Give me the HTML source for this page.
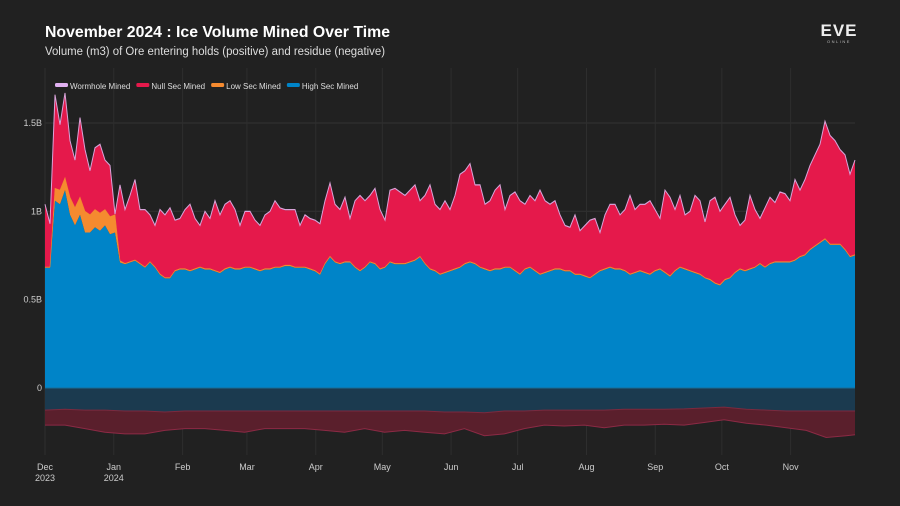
<!DOCTYPE html>
<html><head><meta charset="utf-8">
<style>
body{margin:0;background:#212121;width:900px;height:506px;overflow:hidden;font-family:"Liberation Sans",sans-serif;}
svg{display:block}
</style></head>
<body>
<svg id="chart" width="900" height="506" xmlns="http://www.w3.org/2000/svg">
<rect width="900" height="506" fill="#212121"/>
<text x="45" y="37" fill="#fff" font-size="16" font-weight="bold" textLength="345" lengthAdjust="spacingAndGlyphs">November 2024 : Ice Volume Mined Over Time</text>
<text x="45" y="55" fill="#ddd" font-size="11.5" textLength="340" lengthAdjust="spacingAndGlyphs">Volume (m3) of Ore entering holds (positive) and residue (negative)</text>
<g>
<text x="839" y="36" fill="#eee" font-size="17" font-weight="bold" text-anchor="middle" letter-spacing="1">EVE</text>
<text x="839" y="43" fill="#bbb" font-size="4" text-anchor="middle" letter-spacing="1.5">ONLINE</text>
</g>
<g id="grid"></g>
<g id="areas"></g>
<g id="axes"></g>
<g id="legend"></g>
</svg>
<script>
const total=[1.04,0.93,1.66,1.49,1.67,1.40,1.29,1.53,1.35,1.23,1.36,1.38,1.29,1.26,0.98,1.15,1.01,1.09,1.18,1.01,1.01,0.98,0.92,1.01,0.98,1.02,0.95,0.96,1.01,1.04,0.96,0.92,1.00,0.96,1.06,0.98,1.04,1.06,1.01,0.92,1.00,1.00,0.95,0.92,0.98,1.00,1.06,1.02,1.01,1.01,1.01,0.92,0.98,0.96,0.95,0.93,1.06,1.16,1.04,1.01,1.08,0.96,1.06,1.09,1.06,1.09,1.13,1.01,0.95,1.12,1.13,1.11,1.09,1.12,1.15,1.06,1.09,1.15,1.04,1.01,1.06,1.01,1.09,1.21,1.23,1.27,1.15,1.15,1.04,1.06,1.12,1.15,1.01,1.09,1.11,1.06,1.04,1.09,1.06,1.12,1.06,1.04,1.06,0.98,0.92,0.91,0.98,0.89,0.92,0.95,0.96,0.88,0.98,1.04,1.04,0.98,1.01,1.09,1.01,1.04,1.04,1.06,1.01,0.96,1.12,1.08,1.01,1.09,0.98,1.00,1.09,1.06,0.94,1.06,1.08,1.00,1.04,1.08,0.98,0.92,0.95,1.09,1.01,0.96,1.02,1.08,1.05,1.11,1.10,1.06,1.18,1.12,1.18,1.26,1.32,1.38,1.51,1.43,1.40,1.35,1.32,1.21,1.29];
const highSec=[0.68,0.68,1.06,1.04,1.12,0.98,0.92,0.98,0.88,0.88,0.91,0.89,0.92,0.87,0.88,0.71,0.70,0.71,0.72,0.70,0.68,0.71,0.68,0.64,0.62,0.62,0.66,0.67,0.67,0.66,0.67,0.68,0.67,0.67,0.66,0.65,0.67,0.68,0.67,0.67,0.68,0.68,0.67,0.66,0.67,0.67,0.68,0.68,0.69,0.69,0.68,0.68,0.68,0.67,0.66,0.64,0.70,0.74,0.71,0.70,0.71,0.71,0.68,0.66,0.68,0.71,0.70,0.67,0.68,0.71,0.70,0.70,0.70,0.71,0.72,0.74,0.70,0.67,0.66,0.64,0.65,0.66,0.67,0.68,0.70,0.71,0.70,0.68,0.67,0.66,0.67,0.67,0.68,0.68,0.66,0.64,0.67,0.68,0.66,0.64,0.65,0.66,0.67,0.67,0.66,0.66,0.64,0.64,0.63,0.62,0.64,0.66,0.67,0.68,0.67,0.67,0.66,0.64,0.65,0.66,0.65,0.64,0.66,0.67,0.65,0.63,0.66,0.68,0.67,0.66,0.65,0.64,0.62,0.61,0.59,0.58,0.61,0.62,0.65,0.67,0.66,0.67,0.68,0.70,0.68,0.70,0.71,0.71,0.71,0.71,0.72,0.74,0.75,0.78,0.80,0.82,0.84,0.81,0.81,0.81,0.78,0.74,0.75];
const lowSec=[0.005,0.005,0.07,0.08,0.07,0.10,0.10,0.10,0.12,0.10,0.10,0.10,0.09,0.10,0.10,0.01,0.005,0.005,0.005,0.005,0.005,0.005,0.005,0.005,0.005,0.005,0.005,0.005,0.005,0.005,0.005,0.005,0.005,0.005,0.005,0.005,0.005,0.005,0.005,0.005,0.005,0.005,0.005,0.005,0.005,0.005,0.005,0.005,0.005,0.005,0.005,0.005,0.005,0.005,0.005,0.005,0.005,0.005,0.005,0.005,0.005,0.005,0.005,0.005,0.005,0.005,0.005,0.005,0.005,0.005,0.005,0.005,0.005,0.005,0.005,0.005,0.005,0.005,0.005,0.005,0.005,0.005,0.005,0.005,0.005,0.005,0.005,0.005,0.005,0.005,0.005,0.005,0.005,0.005,0.005,0.005,0.005,0.005,0.005,0.005,0.005,0.005,0.005,0.005,0.005,0.005,0.005,0.005,0.005,0.005,0.005,0.005,0.005,0.005,0.005,0.005,0.005,0.005,0.005,0.005,0.005,0.005,0.005,0.005,0.005,0.005,0.005,0.005,0.005,0.005,0.005,0.005,0.005,0.005,0.005,0.005,0.005,0.005,0.005,0.005,0.005,0.005,0.005,0.005,0.005,0.005,0.005,0.005,0.005,0.005,0.005,0.005,0.005,0.005,0.005,0.005,0.005,0.005,0.005,0.005,0.005,0.005,0.005];
const wormhole=0.004;
const residueDays=[0,9,18,27,36,45,54,63,72,81,90,99,108,117,126,135,144,153,162,171,180,189,198,207,216,225,234,243,252,261,270,279,288,297,306,316,325,334,343,352,361,365];
const highResidue=[-0.125,-0.12,-0.125,-0.125,-0.13,-0.13,-0.136,-0.13,-0.13,-0.13,-0.13,-0.13,-0.13,-0.13,-0.13,-0.13,-0.13,-0.13,-0.13,-0.13,-0.136,-0.136,-0.14,-0.13,-0.13,-0.125,-0.125,-0.125,-0.125,-0.12,-0.12,-0.12,-0.118,-0.113,-0.108,-0.12,-0.125,-0.13,-0.13,-0.13,-0.13,-0.13];
const nullResidue=[-0.085,-0.09,-0.105,-0.125,-0.13,-0.13,-0.104,-0.10,-0.10,-0.11,-0.12,-0.10,-0.10,-0.10,-0.11,-0.12,-0.10,-0.12,-0.11,-0.12,-0.124,-0.094,-0.13,-0.13,-0.10,-0.085,-0.09,-0.085,-0.10,-0.09,-0.09,-0.085,-0.092,-0.082,-0.072,-0.08,-0.085,-0.095,-0.11,-0.15,-0.14,-0.135];
const yTicks=[0,0.5,1,1.5];
const yTickLabels=["0","0.5B","1B","1.5B"];
const monthDays=[0,31,62,91,122,152,183,213,244,275,305,336];
const monthLabels=["Dec","Jan","Feb","Mar","Apr","May","Jun","Jul","Aug","Sep","Oct","Nov"];
const monthYears={0:"2023",1:"2024"};
const legendLabels=["Wormhole Mined","Null Sec Mined","Low Sec Mined","High Sec Mined"];
const legendColors=["#e0b0f0","#e5194b","#f58a2f","#0084c8"];

const NS="http://www.w3.org/2000/svg";
const X0=45,X1=855,DAYS=365;
const xs=d=>X0+d*(X1-X0)/DAYS;
const ys=v=>388-v*176.7;
const n=Math.min(total.length,highSec.length,lowSec.length);
const dayOf=i=>i*DAYS/(n-1);
function mk(tag,attrs,parent){const e=document.createElementNS(NS,tag);for(const k in attrs)e.setAttribute(k,attrs[k]);parent.appendChild(e);return e;}
const grid=document.getElementById('grid'),areas=document.getElementById('areas'),axes=document.getElementById('axes'),legend=document.getElementById('legend');
yTicks.forEach((t,i)=>{
  if(t!==0){const l=mk('line',{x1:X0,x2:X1,y1:ys(t),y2:ys(t),stroke:'#333','stroke-width':1},grid);
  
  }
  const tx=mk('text',{x:42,y:ys(t)+3,fill:'#ccc','font-size':9,'text-anchor':'end'},axes);
  tx.textContent=yTickLabels[i];
  
  
});
monthDays.forEach((d,i)=>{
  const l=mk('line',{x1:xs(d),x2:xs(d),y1:68,y2:455,stroke:'#2e2e2e','stroke-width':1},grid);
  
  
  const tx=mk('text',{x:xs(d),y:470,fill:'#ccc','font-size':9,'text-anchor':'middle'},axes);
  tx.textContent=monthLabels[i];
  
  
  if(monthYears[i]){const ty=mk('text',{x:xs(d),y:481,fill:'#ccc','font-size':9,'text-anchor':'middle'},axes);
  ty.textContent=monthYears[i];
  
  }
});
function band(lo,hi,fill,name,days){
  const m=days.length;let p='';
  for(let i=0;i<m;i++)p+=(i?'L':'M')+xs(days[i]).toFixed(1)+','+ys(hi[i]).toFixed(1);
  for(let i=m-1;i>=0;i--)p+='L'+xs(days[i]).toFixed(1)+','+ys(lo[i]).toFixed(1);
  const e=mk('path',{d:p+'Z',fill:fill},areas);
  
  
  return e;
}
function line(vals,stroke,name,days,w){
  let p='';days.forEach((d,i)=>{p+=(i?'L':'M')+xs(d).toFixed(1)+','+ys(vals[i]).toFixed(1);});
  const e=mk('path',{d:p,fill:'none',stroke:stroke,'stroke-width':w||1},areas);
  
  
}
const days=[];for(let i=0;i<n;i++)days.push(dayOf(i));
const zero=days.map(()=>0);
const hs=highSec.slice(0,n);
const ls=hs.map((v,i)=>v+lowSec[i]);
const tot=total.slice(0,n).map((v,i)=>Math.max(v,ls[i]+wormhole));
const ns=tot.map(v=>v-wormhole);
band(zero,hs,'#0084c8','high-sec-area',days);
band(hs,ls,'#f58a2f','low-sec-area',days);
band(ls,ns,'#e5194b','null-sec-area',days);
band(ns,tot,'#e0b0f0','wormhole-area',days);
line(tot,'#d9a3d9','total-line',days,1);
line(ls,'#f58a2f','low-sec-line',days,0.6);
const rz=residueDays.map(()=>0);
const rb=highResidue.map((v,i)=>v+nullResidue[i]);
band(rz,highResidue,'#1b3a4f','high-sec-residue-area',residueDays);
band(highResidue,rb,'#5a1f2c','null-sec-residue-area',residueDays);
line(rb,'#8c2a45','residue-bottom-line',residueDays,1);
line(highResidue,'#7a2a3f','residue-mid-line',residueDays,1);
const zl=mk('line',{x1:X0,x2:X1,y1:ys(0),y2:ys(0),stroke:'#1a6c96','stroke-width':1},areas);


let lx=55;
legendLabels.forEach((lab,i)=>{
  const g=mk('g',{},legend);
  
  
  mk('rect',{x:lx,y:83,width:13,height:4,rx:1.5,fill:legendColors[i]},g);
  const t=mk('text',{x:lx+15,y:89,fill:'#ddd','font-size':8},g);
  t.textContent=lab;
  lx+=15+t.getComputedTextLength()+6;
});
</script>
</body></html>
